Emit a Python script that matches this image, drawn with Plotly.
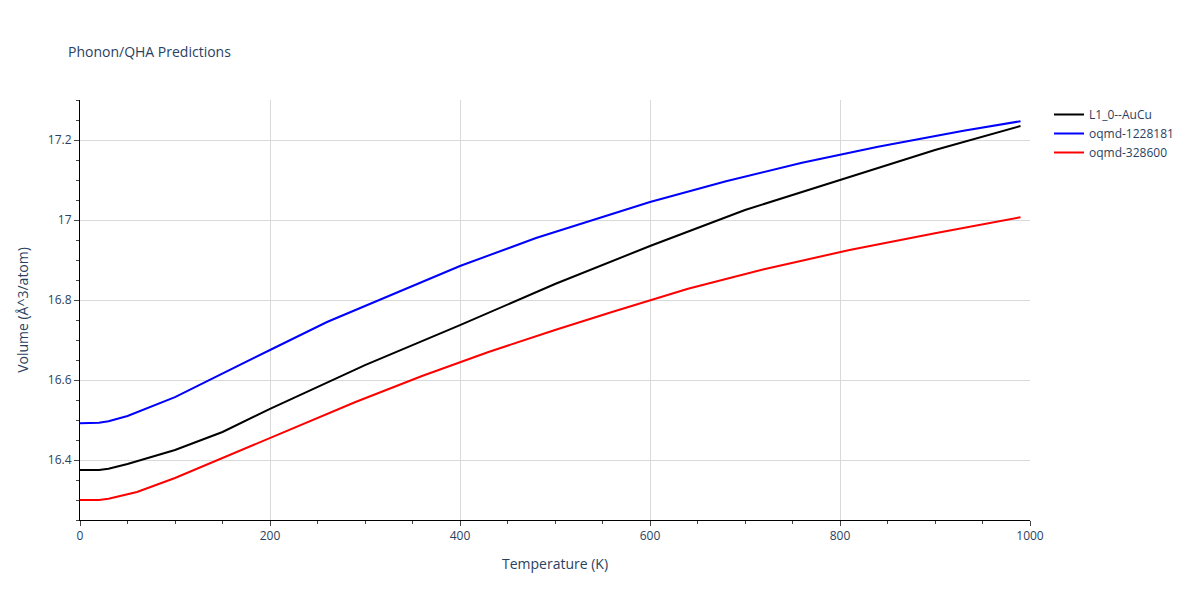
import plotly.graph_objects as go

temp_black = [0, 20, 30, 50, 100, 150, 200, 300, 400, 500, 600, 700, 800, 900, 990]
vol_black = [16.375, 16.375, 16.378, 16.39, 16.425, 16.47, 16.528, 16.637, 16.737, 16.84, 16.935, 17.025, 17.10, 17.175, 17.235]

temp_blue = [0, 20, 30, 50, 100, 150, 200, 260, 340, 400, 480, 550, 600, 680, 760, 840, 930, 990]
vol_blue = [16.492, 16.493, 16.497, 16.51, 16.557, 16.615, 16.675, 16.745, 16.825, 16.885, 16.955, 17.008, 17.045, 17.097, 17.143, 17.183, 17.223, 17.247]

temp_red = [0, 20, 30, 60, 100, 150, 200, 290, 360, 430, 500, 560, 640, 720, 810, 900, 990]
vol_red = [16.30, 16.30, 16.303, 16.32, 16.355, 16.405, 16.457, 16.545, 16.61, 16.67, 16.725, 16.77, 16.828, 16.877, 16.925, 16.967, 17.007]

fig = go.Figure()
for name, xs, ys, color in [
    ("L1_0--AuCu", temp_black, vol_black, "black"),
    ("oqmd-1228181", temp_blue, vol_blue, "blue"),
    ("oqmd-328600", temp_red, vol_red, "red"),
]:
    fig.add_trace(go.Scatter(x=xs, y=ys, mode="lines", name=name,
                             line=dict(color=color, width=2)))

fig.update_layout(
    title=dict(text="Phonon/QHA Predictions", x=0.05, y=0.935, font=dict(size=14)),
    template="plotly_white",
    width=1200, height=600,
    margin=dict(l=72, r=178, t=92, b=88),
    legend=dict(x=1.02, y=1, xanchor="left", yanchor="top"),
)
fig.update_xaxes(title_text="Temperature (K)", range=[0, 1000], showline=True,
                 linecolor="black", ticks="outside", showgrid=True, gridcolor="#d9d9d9",
                 minor=dict(ticks="outside", dtick=50), dtick=200, zeroline=False)
fig.update_yaxes(title_text="Volume (Å^3/atom)", range=[16.25, 17.3], showline=True,
                 linecolor="black", ticks="outside", showgrid=True, gridcolor="#d9d9d9",
                 minor=dict(ticks="outside", dtick=0.05), dtick=0.2, zeroline=False)
fig.write_html("out.html")
